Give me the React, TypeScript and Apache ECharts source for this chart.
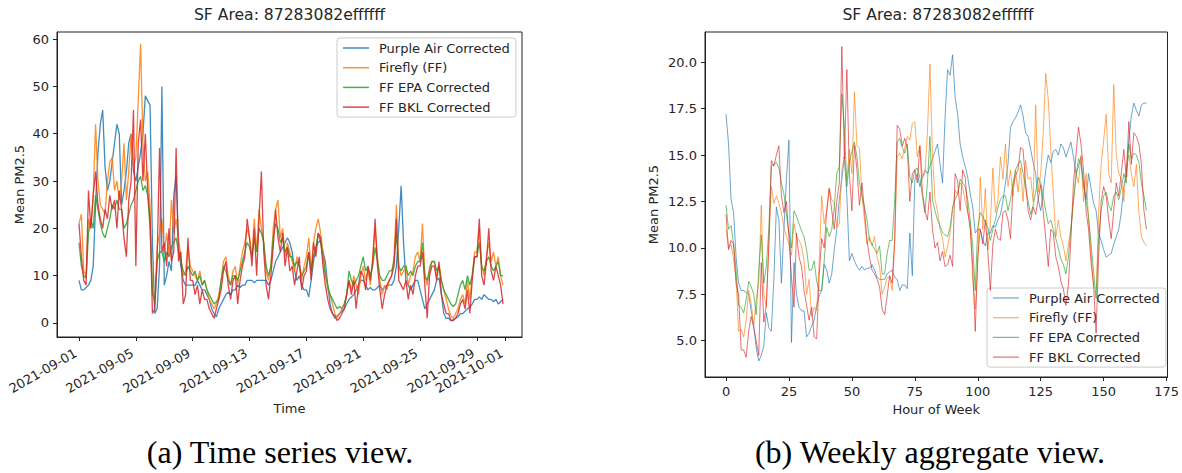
import React, { useEffect, useRef } from "react";
import * as echarts from "echarts";

const SERIES_NAMES = ["Purple Air Corrected", "Firefly (FF)", "FF EPA Corrected", "FF BKL Corrected"];
const COLORS = ["#1f77b4", "#ff7f0e", "#2ca02c", "#d62728"];
const TITLE = "SF Area: 87283082effffff";

// ---- (a) Time series: 4-hourly means starting 2021-09-01 00:00 ----
const tsStartUTC = Date.UTC(2021, 8, 1);
const tsStepHours = 4;
const tsPurpleAir = [
  9, 7, 7, 7.5, 8, 9,
  12, 25, 36, 42, 45, 33,
  28, 30, 34, 38, 42, 40,
  25, 28, 32, 38, 40, 32,
  30, 33, 36, 40, 48, 47,
  46, 17, 2, 3, 12, 50,
  8, 10, 13, 11, 27, 31,
  17, 12, 9, 8, 8, 8,
  8, 8, 9, 8, 7, 7,
  6, 5, 3, 2, 1.3, 3,
  4, 5, 6, 6.5, 6, 7,
  7, 8, 7.5, 8, 8, 9,
  9, 9, 8.5, 9, 9, 9,
  9, 9, 8, 9, 11, 13,
  14, 15, 16, 17, 18, 17,
  15, 11, 9, 10, 8, 7,
  7, 5.5, 9, 13, 16, 17,
  17.5, 15, 13, 8, 4, 2,
  1, 1.5, 2, 2.5, 3, 4,
  5, 5.5, 6, 7, 8, 9,
  9, 8, 7, 7.5, 7, 7,
  7.5, 8, 7, 7.5, 8, 8,
  8, 9, 12, 20, 29, 17,
  9, 8, 7, 8, 9, 9,
  7, 5, 3, 4, 5, 6,
  7, 9, 9.5, 6, 2, 1,
  1, 0.5, 0.7, 1, 1.3, 2,
  2, 2.5, 3, 3.3, 4, 5,
  5, 5.5, 5, 6, 5.5, 5,
  5, 4.5, 5, 4, 4.5, 5,
];
const tsFirefly = [
  21, 23, 11, 10, 22, 20,
  27, 42, 30, 25, 24, 23,
  30, 34, 35, 28, 30, 26,
  30, 38, 26, 32, 40, 33,
  35, 47, 59, 38, 30, 32,
  25, 6, 5, 16, 19, 22,
  15, 19, 14, 26, 19, 22,
  18, 14, 10, 11, 16, 12,
  11, 10, 9, 11, 8, 9,
  7, 5, 4, 3, 4, 6,
  9, 13, 14, 10, 8, 11,
  12, 8, 12, 15, 17, 20,
  18, 14, 22, 15, 24, 20,
  17, 11, 9, 12, 20, 24,
  26, 18, 20, 14, 17, 15,
  13, 11, 14, 12, 9, 12,
  14, 18, 11, 17, 20, 22,
  19, 15, 11, 7, 6, 4,
  2, 1, 2, 3, 4, 6,
  9, 7, 10, 8, 6, 10,
  12, 9, 11, 8, 14, 20,
  14, 9, 6, 8, 7, 9,
  10, 14, 25, 12, 10, 11,
  12, 8, 10, 11, 14, 15,
  13, 21, 10, 8, 12, 13,
  13, 10, 12, 9, 7, 5,
  3, 1.5, 1, 2, 3, 5,
  6, 4, 9, 5, 10, 15,
  15, 20, 12, 10, 14, 17,
  13, 15, 12, 14, 10, 8,
];
const tsEpa = [
  17, 12, 10, 9.5, 19, 22,
  20, 27, 24, 21, 19, 18,
  20, 22, 25, 24, 26, 24,
  24, 20, 21, 23, 25, 26,
  28, 30, 31, 28, 29, 27,
  20, 7, 4, 13, 15, 15,
  13, 15, 14, 16, 17, 18,
  15, 13, 11, 10, 12, 11,
  10, 11, 9, 10, 8, 9,
  7, 6, 5, 4, 4.5, 5,
  9, 12, 11, 9, 8, 10,
  10, 9, 11, 13, 15, 17,
  16, 14, 18, 15, 20, 19,
  17, 12, 10, 12, 18, 21,
  20, 17, 18, 15, 16, 14,
  14, 12, 13, 12, 10, 11,
  12, 15, 11, 14, 16, 19,
  17, 14, 10, 8, 6, 5,
  4, 3, 3.5, 3, 4, 6,
  11, 9, 8, 9, 10, 12,
  14, 11, 12, 10, 12, 16,
  13, 10, 9, 9, 10, 11,
  11, 13, 19, 12, 11, 12,
  12, 10, 11, 10, 12, 13,
  13, 17, 10, 9, 11, 13,
  13, 11, 12, 9, 7, 6,
  5, 4, 3.5, 4, 6, 8,
  9, 7, 10, 8, 10, 14,
  14, 17, 12, 11, 13, 14,
  12, 11, 12, 13, 10, 10,
];
const tsBkl = [
  21, 14, 9, 8, 28, 20,
  27, 32, 25, 22, 20, 24,
  22, 27, 24, 26, 20, 28,
  24, 18, 14, 26, 30, 45,
  12, 38, 43, 30, 40, 28,
  22, 2, 3, 14, 37, 15,
  17, 12, 20, 13, 15, 37,
  13, 15, 4, 6, 18, 9,
  9, 6, 8, 4, 7, 5,
  5, 3, 2, 1, 3, 5,
  7, 11, 13, 8, 5, 9,
  10, 4, 9, 12, 14, 22,
  18, 12, 20, 10, 22, 32,
  15, 8, 5, 10, 16, 24,
  18, 15, 19, 12, 16, 11,
  12, 8, 11, 14, 7, 10,
  11, 15, 9, 17, 14, 19,
  18, 12, 8, 5, 3, 2,
  1.5, 0.5, 1, 2, 3, 6,
  9, 6, 9, 3, 8, 11,
  10, 7, 12, 9, 13, 22,
  12, 7, 3, 6, 8, 9,
  10, 12, 22, 9, 8, 7,
  9, 5, 8, 6, 10, 12,
  12, 15, 8, 1, 10, 12,
  12, 9, 13, 6, 4, 2,
  2, 0.5, 0.5, 1, 2, 4,
  5, 3, 7, 2, 9, 14,
  14, 22, 10, 8, 13, 20,
  11, 9, 12, 10, 8, 4,
];
const tsTickDays = [0, 4, 8, 12, 16, 20, 24, 28, 30];
const tsYTicks = [0, 10, 20, 30, 40, 50, 60];

// ---- (b) Weekly aggregate: hour of week 0..167 ----
const weekPurpleAir = [
  17.2, 15.6, 12.6, 11.9, 9.5, 8.1, 7.7, 7.7, 7.6, 7.5,
  6.6, 5.8, 4.6, 3.9, 4.2, 4.7, 6.5, 5.7, 5.5, 8.3,
  12.2, 11.5, 8.1, 11.0, 13.7, 15.8, 4.9, 9.2, 7.5, 6.8,
  6.6, 6.6, 5.2, 5.4, 5.8, 6.1, 6.9, 7.4, 7.7, 9.1,
  8.8, 8.1, 8.6, 9.9, 11.0, 12.6, 13.7, 14.9, 12.8, 9.3,
  9.7, 9.3, 9.0, 8.8, 9.0, 8.8, 8.9, 8.9, 9.1, 8.8,
  8.4, 8.3, 8.3, 8.3, 8.6, 8.7, 8.8, 8.4, 8.3, 7.7,
  8.0, 8.0, 7.8, 10.8, 8.5, 13.7, 14.0, 13.3, 13.8, 14.2,
  14.0, 14.4, 14.8, 15.2, 15.6, 14.5, 13.5, 17.0, 19.6, 19.3,
  20.4, 18.1, 17.2, 15.6, 14.9, 14.4, 13.8, 12.9, 12.2, 10.8,
  11.0, 11.0, 10.4, 10.1, 10.8, 10.8, 11.2, 11.1, 11.5, 11.8,
  12.5, 13.5, 14.5, 16.5, 16.8, 17.0, 17.3, 17.7, 17.1, 16.2,
  16.0, 15.3, 14.6, 14.0, 12.6, 12.0, 13.0, 14.2, 15.0, 14.6,
  15.2, 15.3, 15.0, 15.6, 15.4, 14.9, 15.3, 15.7, 14.9, 14.0,
  14.4, 14.9, 13.3, 12.6, 14.0, 13.2, 12.4, 12.0, 10.8, 10.4,
  9.9, 9.5, 9.6, 9.7, 10.2, 10.6, 11.0, 11.9, 13.3, 14.0,
  15.8, 17.1, 17.8, 17.4, 17.1, 17.7, 17.8, 17.8,
];
const weekFirefly = [
  11.0, 10.0, 10.2, 9.4, 8.3, 5.5, 5.6, 5.2, 6.1, 7.7,
  7.0, 5.8, 7.2, 8.1, 12.3, 7.5, 6.8, 10.1, 13.3, 12.4,
  12.8, 12.4, 11.9, 11.1, 10.6, 10.2, 9.6, 11.3, 10.6, 10.4,
  10.1, 9.3, 7.5, 8.3, 6.3, 6.8, 6.6, 9.2, 12.8, 11.3,
  12.0, 13.2, 12.6, 12.4, 11.1, 11.3, 14.2, 14.9, 13.7, 15.3,
  14.0, 18.4, 15.5, 15.4, 12.8, 11.5, 10.2, 10.6, 10.1, 10.6,
  9.5, 9.0, 7.5, 7.9, 8.4, 8.4, 7.7, 10.2, 14.9, 15.1,
  14.8, 15.4, 16.0, 15.8, 16.7, 16.8, 14.9, 15.5, 13.8, 14.0,
  16.2, 19.9, 15.0, 12.6, 12.0, 11.0, 10.5, 9.5, 10.1, 10.8,
  12.0, 13.1, 12.9, 13.5, 13.3, 12.5, 11.9, 11.3, 8.3, 6.7,
  9.2, 13.8, 11.0, 13.2, 9.9, 11.3, 14.3, 11.9, 12.6, 14.9,
  13.7, 15.6, 13.3, 14.2, 12.8, 14.2, 13.0, 14.3, 12.5, 14.7,
  13.7, 13.8, 12.5, 17.7, 13.0, 14.0, 16.2, 19.4, 18.0, 15.3,
  12.9, 10.6, 11.5, 10.6, 10.1, 9.3, 10.2, 11.1, 12.5, 14.0,
  13.5, 15.0, 12.5, 14.0, 11.5, 9.7, 7.9, 7.2, 12.0, 14.5,
  15.8, 17.2, 14.0, 13.5, 18.8, 15.0, 14.0, 13.7, 12.5, 14.4,
  15.0, 14.0, 13.3, 14.5, 11.9, 10.6, 10.3, 10.1,
];
const weekEpa = [
  12.3, 11.0, 11.2, 10.2, 8.8, 6.9, 6.8, 6.5, 7.2, 8.2,
  7.9, 7.5, 6.4, 8.8, 10.7, 8.1, 9.0, 11.0, 14.4, 14.5,
  14.6, 14.3, 13.5, 12.9, 11.8, 10.8, 10.0, 12.0, 11.7, 11.3,
  10.9, 10.6, 9.9, 8.8, 8.8, 9.3, 8.2, 7.7, 7.7, 9.3,
  11.1, 10.6, 11.0, 12.2, 14.0, 14.4, 18.3, 16.5, 13.3, 14.6,
  15.2, 15.7, 14.9, 13.5, 12.8, 12.2, 11.5, 10.4, 10.2, 9.9,
  9.7, 10.1, 8.6, 8.6, 9.7, 10.4, 10.4, 12.6, 15.7, 15.9,
  15.4, 15.1, 15.6, 13.8, 13.5, 14.2, 14.3, 13.8, 12.8, 11.9,
  13.5, 16.0, 12.6, 12.0, 11.5, 11.2, 10.8, 10.7, 10.6, 11.1,
  12.2, 12.6, 12.9, 13.7, 13.5, 13.3, 12.6, 11.5, 10.1, 7.7,
  11.1, 11.9, 11.7, 11.4, 11.1, 10.4, 11.0, 11.5, 12.2, 12.6,
  12.8, 12.8, 12.0, 12.6, 13.5, 14.2, 14.5, 14.7, 14.0, 13.2,
  12.5, 11.8, 12.3, 13.0, 13.8, 13.5, 12.8, 12.0, 11.3, 11.5,
  11.0, 10.5, 10.0, 9.4, 9.1, 8.6, 9.5, 11.0, 12.5, 13.8,
  14.8, 14.5, 13.5, 12.6, 11.7, 10.2, 8.7, 7.3, 10.5, 12.0,
  12.8, 13.0, 12.3, 12.0, 12.8, 13.0, 12.6, 13.2, 14.0, 13.5,
  15.6, 14.8, 15.1, 15.0, 14.6, 13.5, 12.8, 12.0,
];
const weekBkl = [
  11.8, 9.9, 10.4, 10.2, 8.1, 7.5, 4.5, 4.5, 4.1, 5.5,
  6.3, 5.7, 5.0, 4.2, 9.2, 6.0, 6.9, 10.2, 14.7, 14.4,
  15.0, 15.5, 12.8, 11.9, 12.5, 10.5, 8.4, 6.8, 10.8, 9.5,
  9.0, 7.7, 6.9, 6.1, 6.8, 5.2, 5.1, 8.5, 10.5, 10.0,
  12.0, 13.2, 12.0, 11.0, 12.5, 13.5, 20.85, 14.8, 19.6, 14.0,
  12.0, 15.5, 14.2, 12.3, 13.5, 12.0, 10.4, 9.5, 8.8, 8.6,
  8.3, 7.9, 6.7, 6.4, 7.4, 8.5, 8.1, 10.5, 16.6, 16.4,
  15.5, 15.9, 15.4, 12.5, 14.0, 14.2, 13.5, 15.5, 13.0, 12.0,
  11.5, 13.0, 11.0, 10.0, 10.3, 9.3, 9.8, 9.0, 9.1, 9.6,
  9.0, 14.0, 13.6, 12.0, 14.2, 13.8, 12.0, 11.0, 9.0, 5.5,
  9.5, 11.0, 10.2, 11.5, 9.8, 7.7, 10.2, 11.0, 10.5, 10.4,
  11.9, 12.0, 11.5, 10.5, 13.3, 13.9, 14.2, 15.4, 15.3, 13.5,
  12.0, 11.5, 12.2, 11.8, 12.6, 13.4, 12.0, 10.5, 9.0, 11.0,
  10.8, 9.5, 9.0, 8.2, 7.8, 6.9, 8.0, 10.5, 13.5, 15.0,
  16.5, 15.6, 14.2, 12.0, 11.0, 9.2, 8.0, 5.4, 9.5, 12.5,
  13.3, 12.8, 11.5, 10.5, 12.0, 13.5, 12.8, 14.0, 15.3, 13.8,
  16.8, 14.5, 16.2, 16.0, 15.6, 14.5, 12.0, 11.0,
];
const weekXTicks = [0, 25, 50, 75, 100, 125, 150, 175];
const weekYTicks = [5, 7.5, 10, 12.5, 15, 17.5, 20];

const FONT = "DejaVu Sans";
const INK = "#262626";
const TICK_FS = 13;

function fmtDay(d: number): string {
  return new Date(tsStartUTC + Math.round(d) * 86400000).toISOString().slice(0, 10);
}

export default function App() {
  const ref = useRef<HTMLDivElement>(null);

  useEffect(() => {
    document.body.style.margin = "0";
    if (!ref.current) return;
    const chart = echarts.init(ref.current, undefined, { renderer: "svg" });

    const tsSets = [tsPurpleAir, tsFirefly, tsEpa, tsBkl];
    const weekSets = [weekPurpleAir, weekFirefly, weekEpa, weekBkl];

    const leftSeries = tsSets.map((arr, k) => ({
      name: SERIES_NAMES[k],
      type: "line",
      xAxisIndex: 0,
      yAxisIndex: 0,
      symbol: "none",
      silent: true,
      data: arr.map((v, i) => [(i * tsStepHours) / 24, v]),
      lineStyle: { color: COLORS[k], width: 1.3, opacity: 0.85 },
      itemStyle: { color: COLORS[k] },
      z: 2 + k,
    }));
    const rightSeries = weekSets.map((arr, k) => ({
      name: SERIES_NAMES[k],
      type: "line",
      xAxisIndex: 1,
      yAxisIndex: 1,
      symbol: "none",
      silent: true,
      data: arr.map((v, i) => [i, v]),
      lineStyle: { color: COLORS[k], width: 1, opacity: 0.65 },
      itemStyle: { color: COLORS[k] },
      z: 2 + k,
    }));

    const axisCommon = {
      axisLine: { show: true, onZero: false, lineStyle: { color: "#222", width: 1 } },
      axisTick: { show: true, length: 4, lineStyle: { color: "#222", width: 1 } },
      splitLine: { show: false },
      nameTextStyle: { fontFamily: FONT, fontSize: TICK_FS, color: INK },
    };
    const labelStyle = { fontFamily: FONT, fontSize: TICK_FS, color: INK };

    const legendCommon = {
      orient: "vertical",
      data: SERIES_NAMES,
      selectedMode: false,
      icon: "rect",
      itemWidth: 26,
      itemGap: 6.7,
      padding: [3.5, 6, 3.5, 6],
      backgroundColor: "rgba(255,255,255,0.8)",
      borderColor: "#cccccc",
      borderWidth: 1,
      borderRadius: 3,
      formatter: (name: string) => "{t|" + name + "}",
      textStyle: {
        fontFamily: FONT,
        fontSize: TICK_FS,
        color: INK,
        rich: { t: { fontFamily: FONT, fontSize: TICK_FS, color: INK, padding: [0, 0, 0, 5] } },
      },
    };

    const titleStyle = { fontFamily: FONT, fontSize: 15.6, fontWeight: "normal", color: INK };

    chart.setOption({
      animation: false,
      textStyle: { fontFamily: FONT },
      title: [
        { text: TITLE, left: 289.5, top: 7, textAlign: "center", padding: 0, textStyle: titleStyle },
        { text: TITLE, left: 938, top: 7, textAlign: "center", padding: 0, textStyle: titleStyle },
      ],
      legend: [
        { ...legendCommon, left: 337, top: 38, itemHeight: 1.5, itemStyle: { opacity: 0.85 } },
        { ...legendCommon, left: 987, top: 288, itemHeight: 1.2, itemStyle: { opacity: 0.65 } },
      ],
      grid: [
        { left: 57, top: 32, width: 465, height: 305, show: true, borderColor: "#222", borderWidth: 1, backgroundColor: "transparent" },
        { left: 705, top: 32, width: 466, height: 345, show: true, borderColor: "#222", borderWidth: 1, backgroundColor: "transparent" },
      ],
      xAxis: [
        {
          ...axisCommon,
          gridIndex: 0,
          type: "value",
          min: -1.548,
          max: 31.17,
          name: "Time",
          nameLocation: "middle",
          nameGap: 61,
          axisTick: { ...axisCommon.axisTick, customValues: tsTickDays },
          axisLabel: {
            ...labelStyle,
            rotate: 30,
            margin: 13,
            padding: [0, 4, 0, 0],
            customValues: tsTickDays,
            formatter: (v: number) => fmtDay(v),
          },
        },
        {
          ...axisCommon,
          gridIndex: 1,
          type: "value",
          min: -8.35,
          max: 175.35,
          name: "Hour of Week",
          nameLocation: "middle",
          nameGap: 25,
          axisTick: { ...axisCommon.axisTick, customValues: weekXTicks },
          axisLabel: { ...labelStyle, margin: 8, customValues: weekXTicks, formatter: (v: number) => String(v) },
        },
      ],
      yAxis: [
        {
          ...axisCommon,
          gridIndex: 0,
          type: "value",
          min: -2.96,
          max: 61.5,
          name: "Mean PM2.5",
          nameLocation: "middle",
          nameGap: 31,
          axisTick: { ...axisCommon.axisTick, customValues: tsYTicks },
          axisLabel: { ...labelStyle, margin: 8, customValues: tsYTicks, formatter: (v: number) => String(v) },
        },
        {
          ...axisCommon,
          gridIndex: 1,
          type: "value",
          min: 3.04,
          max: 21.63,
          name: "Mean PM2.5",
          nameLocation: "middle",
          nameGap: 45,
          axisTick: { ...axisCommon.axisTick, customValues: weekYTicks },
          axisLabel: { ...labelStyle, margin: 8, customValues: weekYTicks, formatter: (v: number) => v.toFixed(1) },
        },
      ],
      series: [...leftSeries, ...rightSeries],
      graphic: [
        {
          type: "text",
          x: 280,
          y: 452,
          style: {
            text: "(a) Time series view.",
            fontFamily: "Liberation Serif",
            fontSize: 32,
            fill: "#000",
            align: "center",
            verticalAlign: "middle",
          },
        },
        {
          type: "text",
          x: 930,
          y: 452,
          style: {
            text: "(b) Weekly aggregate view.",
            fontFamily: "Liberation Serif",
            fontSize: 32,
            fill: "#000",
            align: "center",
            verticalAlign: "middle",
          },
        },
      ],
    });

    return () => chart.dispose();
  }, []);

  return <div ref={ref} style={{ width: 1182, height: 473 }} />;
}
